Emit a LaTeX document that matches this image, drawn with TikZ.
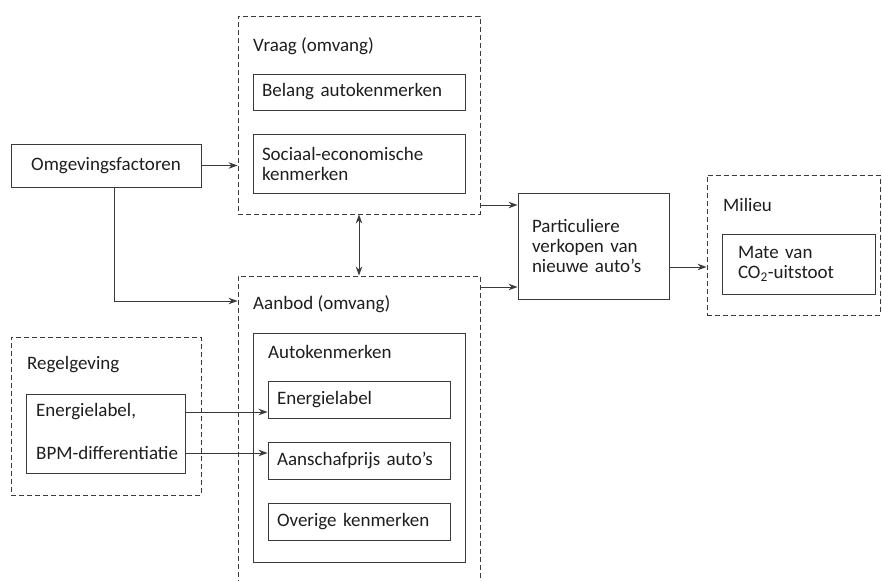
\documentclass[tikz,border=0pt]{standalone}
\usepackage{fontspec}
\setmainfont{Carlito}
\usetikzlibrary{arrows.meta}
\definecolor{ln}{HTML}{3A3A3A}
\definecolor{tx}{HTML}{1E1E1E}
\tikzset{
  every node/.style={text=tx, font=\fontsize{19}{20}\selectfont},
  solidbox/.style={draw=ln, line width=0.95pt, inner ysep=0pt, align=left},
  dashbox/.style={draw=ln, line width=0.9pt, dash pattern=on 5pt off 3pt, inner sep=0pt},
  lbl/.style={anchor=west, inner sep=0pt},
  arr/.style={draw=ln, line width=0.95pt, -{Stealth[length=9pt,width=6.5pt]}},
  darr/.style={draw=ln, line width=0.95pt, {Stealth[length=9pt,width=6.5pt]}-{Stealth[length=9pt,width=6.5pt]}}
}
\begin{document}
\begin{tikzpicture}[x=1pt,y=-1pt]
\useasboundingbox (0,0) rectangle (882,580);
\clip (0,0) rectangle (882,580);
% Omgevingsfactoren
\node[solidbox, align=center, minimum width=190pt, minimum height=43pt] (omg) at (106,165.5) {Omgevingsfactoren};
% Vraag
\node[dashbox, minimum width=242pt, minimum height=198pt] (vraag) at (359,115) {};
\node[lbl] (vraaglbl) at (253,46) {Vraag (omvang)};
\node[solidbox, inner xsep=9pt, text width=194pt, minimum height=36pt] (belang) at (359,92) {Belang autokenmerken};
\node[solidbox, inner xsep=9pt, text width=194pt, minimum height=59pt] (sociaal) at (359,163.5) {Sociaal-economische\\kenmerken};
% Aanbod
\node[dashbox, minimum width=242pt, minimum height=324pt] (aanbod) at (359,438) {};
\node[lbl] (aanbodlbl) at (253,304) {Aanbod (omvang)};
\node[solidbox, minimum width=212pt, minimum height=229pt] (autok) at (359,447.5) {};
\node[lbl] (autoklbl) at (268,352) {Autokenmerken};
\node[solidbox, inner xsep=9pt, text width=164pt, minimum height=37pt] (energ) at (359,399.5) {Energielabel};
\node[solidbox, inner xsep=9pt, text width=164pt, minimum height=37pt] (aansch) at (359,460.5) {Aanschafprijs auto's};
\node[solidbox, inner xsep=9pt, text width=164pt, minimum height=37pt] (overig) at (359,521.5) {Overige kenmerken};
% Regelgeving
\node[dashbox, minimum width=190pt, minimum height=158pt] (regel) at (106,416) {};
\node[lbl] (regellbl) at (27,365) {Regelgeving};
\node[solidbox, minimum width=159pt, minimum height=79pt] (bpm) at (105.5,433.5) {};
\node[lbl] (bpm1) at (36,412) {Energielabel,};
\node[lbl] (bpm2) at (36,453) {BPM-differentiatie};
% Particuliere verkopen
\node[solidbox, inner xsep=14pt, text width=123pt, minimum height=106pt] (part) at (593.5,246) {Particuliere\\verkopen van\\nieuwe auto's};
% Milieu
\node[dashbox, minimum width=173pt, minimum height=140pt] (milieu) at (793.5,245) {};
\node[lbl] (milieulbl) at (723,205) {Milieu};
\node[solidbox, inner xsep=16pt, text width=121pt, minimum height=60pt] (mate) at (798.5,264) {Mate van\\CO\textsubscript{2}-uitstoot};
% connectors
\coordinate (omgdown) at ([xshift=8pt]omg.south);
\coordinate (aanbodin) at (aanbod.west |- 0,301);
\coordinate (vraagout) at (vraag.east |- 0,205);
\coordinate (aanbodout) at (aanbod.east |- 0,287);
\coordinate (partout) at (part.east |- 0,267);
\coordinate (bpmout1) at (bpm.east |- 0,412);
\coordinate (bpmout2) at (bpm.east |- 0,453);
\draw[arr] (omg.east) -- (vraag.west |- omg.east);
\draw[arr] (omgdown) |- (aanbodin);
\draw[arr] (vraagout) -- (part.west |- vraagout);
\draw[arr] (aanbodout) -- (part.west |- aanbodout);
\draw[arr] (partout) -- (milieu.west |- partout);
\draw[darr] (vraag.south) -- (aanbod.north);
\draw[arr] (bpmout1) -- (energ.west |- bpmout1);
\draw[arr] (bpmout2) -- (aansch.west |- bpmout2);
\end{tikzpicture}
\end{document}
